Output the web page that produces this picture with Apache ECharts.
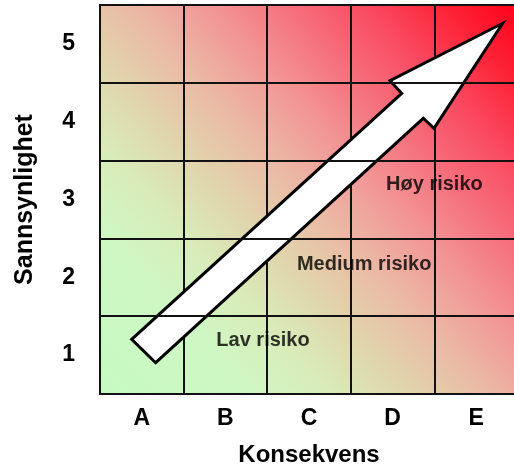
<!DOCTYPE html>
<html>
<head>
<meta charset="utf-8">
<script src="https://cdn.jsdelivr.net/npm/echarts@6/dist/echarts.min.js"></script>
<style>
  html, body { margin: 0; padding: 0; background: #fff; }
  #chart { width: 514px; height: 468px; }
</style>
</head>
<body>
<div id="chart"></div>
<script>
// categories on the two axes
let consequences = ['A', 'B', 'C', 'D', 'E'];
let likelihoods = ['1', '2', '3', '4', '5'];

// arrow outline in grid units (0..5 on both axes)
let arrowX = [4.817, 3.995, 3.867, 0.666, 0.379, 3.609, 3.469];
let arrowY = [4.765, 3.415, 3.544, 0.402, 0.703, 3.865, 4.027];

// risk zone labels
let zoneNames = ['Lav risiko', 'Medium risiko', 'Høy risiko'];
let zoneX = [1.95, 3.16, 4.0];
let zoneY = [0.69, 1.67, 2.69];

let font = 'Liberation Sans, Arial, Helvetica, sans-serif';
let chart = echarts.init(document.getElementById('chart'));

let background = new echarts.graphic.LinearGradient(0, 1, 1, 0, [
    { offset: 0, color: '#c6fac2' },
    { offset: 0.2, color: '#cff7c3' },
    { offset: 0.3, color: '#d9ebb9' },
    { offset: 0.4, color: '#e1d4ac' },
    { offset: 0.5, color: '#ebb9a5' },
    { offset: 0.6, color: '#f29696' },
    { offset: 0.7, color: '#f6707d' },
    { offset: 0.8, color: '#fa4b62' },
    { offset: 0.9, color: '#fd2337' },
    { offset: 1, color: '#ff0018' }
]);

let zoneData = zoneNames.map(function (name, i) {
    return { name: name, value: [zoneX[i], zoneY[i]] };
});

chart.setOption({
    animation: false,
    grid: {
        left: 100,
        top: 5,
        right: -4,
        bottom: 74,
        outerBoundsMode: 'none',
        show: true,
        backgroundColor: background,
        borderColor: '#111',
        borderWidth: 2
    },
    xAxis: [{
        type: 'category',
        data: consequences,
        z: 1,
        name: 'Konsekvens',
        nameLocation: 'middle',
        nameGap: 49,
        nameTextStyle: { fontFamily: font, fontWeight: 'bold', fontSize: 24, color: '#000' },
        axisLine: { lineStyle: { color: '#111', width: 2 } },
        axisTick: { show: false },
        axisLabel: { margin: 13, fontFamily: font, fontWeight: 'bold', fontSize: 23, color: '#000' },
        splitLine: { show: true, lineStyle: { color: '#111', width: 2 } }
    }, {
        type: 'value',
        min: 0,
        max: 5,
        show: false
    }],
    yAxis: [{
        type: 'category',
        data: likelihoods,
        z: 3,
        name: 'Sannsynlighet',
        nameLocation: 'middle',
        nameGap: 62,
        nameRotate: 90,
        nameTextStyle: { fontFamily: font, fontWeight: 'bold', fontSize: 25, color: '#000' },
        axisLine: { lineStyle: { color: '#111', width: 2 } },
        axisTick: { show: false },
        axisLabel: { margin: 25, fontFamily: font, fontWeight: 'bold', fontSize: 23, color: '#000' },
        splitLine: { show: true, lineStyle: { color: '#111', width: 2 } }
    }, {
        type: 'value',
        min: 0,
        max: 5,
        show: false
    }],
    series: [{
        type: 'custom',
        xAxisIndex: 1,
        yAxisIndex: 1,
        z: 2,
        data: [[0, 0]],
        renderItem: function (params, api) {
            let points = arrowX.map(function (x, i) {
                return api.coord([x, arrowY[i]]);
            });
            return {
                type: 'polygon',
                shape: { points: points },
                style: { fill: '#fff', stroke: '#000', lineWidth: 3, lineJoin: 'miter' }
            };
        }
    }, {
        type: 'scatter',
        xAxisIndex: 1,
        yAxisIndex: 1,
        z: 4,
        symbolSize: 0,
        data: zoneData,
        label: {
            show: true,
            position: 'inside',
            formatter: '{b}',
            fontFamily: font,
            fontWeight: 'bold',
            fontSize: 20,
            color: '#000'
        }
    }]
});
</script>
</body>
</html>
